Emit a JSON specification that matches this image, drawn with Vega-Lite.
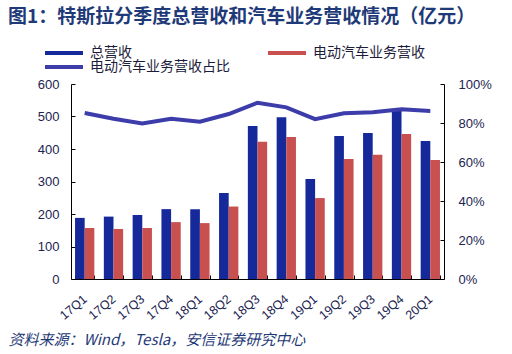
{
  "$schema": "https://vega.github.io/schema/vega-lite/v6.json",
  "autosize": {"type": "none"},
  "width": 373,
  "height": 195,
  "padding": {"left": 71, "top": 84, "right": 68, "bottom": 75},
  "background": "white",
  "config": {
    "view": {"stroke": null},
    "font": "Liberation Sans",
    "axis": {"grid": false, "domainColor": "#000000", "tickColor": "#000000", "labelColor": "#1c2450", "labelFont": "Liberation Sans", "labelFontSize": 13}
  },
  "title": {
    "text": "图1：特斯拉分季度总营收和汽车业务营收情况（亿元）",
    "anchor": "start",
    "frame": "group",
    "orient": "top",
    "dx": -63,
    "offset": 19,
    "font": "Noto Sans CJK SC",
    "fontSize": 19,
    "fontWeight": "bold",
    "color": "#1f3a78"
  },
  "data": {
    "values": [
      {"q": "17Q1", "总营收": 188, "电动汽车业务营收": 157, "ratio": 0.851},
      {"q": "17Q2", "总营收": 192, "电动汽车业务营收": 154, "ratio": 0.822},
      {"q": "17Q3", "总营收": 197, "电动汽车业务营收": 157, "ratio": 0.798},
      {"q": "17Q4", "总营收": 215, "电动汽车业务营收": 175, "ratio": 0.822},
      {"q": "18Q1", "总营收": 215, "电动汽车业务营收": 172, "ratio": 0.807},
      {"q": "18Q2", "总营收": 265, "电动汽车业务营收": 223, "ratio": 0.846},
      {"q": "18Q3", "总营收": 471, "电动汽车业务营收": 422, "ratio": 0.904},
      {"q": "18Q4", "总营收": 498, "电动汽车业务营收": 437, "ratio": 0.88},
      {"q": "19Q1", "总营收": 308, "电动汽车业务营收": 249, "ratio": 0.82},
      {"q": "19Q2", "总营收": 440, "电动汽车业务营收": 369, "ratio": 0.85},
      {"q": "19Q3", "总营收": 449, "电动汽车业务营收": 382, "ratio": 0.855},
      {"q": "19Q4", "总营收": 520, "电动汽车业务营收": 446, "ratio": 0.87},
      {"q": "20Q1", "总营收": 425, "电动汽车业务营收": 366, "ratio": 0.862}
    ]
  },
  "encoding": {
    "x": {
      "field": "q",
      "type": "nominal",
      "sort": null,
      "scale": {"paddingInner": 0.33, "paddingOuter": 0.14},
      "axis": {
        "title": "资料来源：Wind，Tesla，安信证券研究中心",
        "titleFont": "Noto Sans CJK SC",
        "titleFontStyle": "italic",
        "titleFontWeight": "normal",
        "titleFontSize": 15,
        "titleColor": "#1f3a78",
        "titleAlign": "left",
        "titleAnchor": "start",
        "titleBaseline": "alphabetic",
        "titleX": -63,
        "titleY": 65,
        "labelAngle": -40,
        "labelAlign": "right",
        "labelBaseline": "middle",
        "labelFontSize": 12.5,
        "labelPadding": 22,
        "tickSize": -4,
        "tickBand": "extent"
      }
    }
  },
  "layer": [
    {
      "transform": [{"fold": ["总营收", "电动汽车业务营收"], "as": ["series", "val"]}],
      "mark": {"type": "bar"},
      "encoding": {
        "xOffset": {"field": "series", "type": "nominal", "sort": ["总营收", "电动汽车业务营收"]},
        "y": {
          "field": "val",
          "type": "quantitative",
          "scale": {"domain": [0, 600]},
          "axis": {"title": null, "values": [0, 100, 200, 300, 400, 500, 600], "tickSize": -4, "labelPadding": 16}
        },
        "color": {
          "field": "series",
          "type": "nominal",
          "scale": {
            "domain": ["总营收", "电动汽车业务营收", "电动汽车业务营收占比"],
            "range": ["#16299a", "#c8504e", "#3c3caa"]
          },
          "legend": {
            "title": null,
            "orient": "none",
            "direction": "horizontal",
            "legendX": -28,
            "legendY": -38,
            "columns": 2,
            "columnPadding": 36,
            "rowPadding": 0,
            "padding": 0,
            "symbolType": "M-1,-0.4H6.6V0.4H-1Z",
            "symbolSize": 100,
            "symbolStrokeWidth": 0,
            "labelOffset": 33,
            "labelFont": "Noto Sans CJK SC",
            "labelFontSize": 14,
            "labelColor": "#1c1c3c",
            "labelLimit": 300,
            "encode": {"symbols": {"update": {"fill": {"scale": "color", "field": "value"}, "stroke": {"value": "transparent"}, "opacity": {"value": 1}}}}
          }
        }
      }
    },
    {
      "mark": {"type": "line", "strokeWidth": 4},
      "encoding": {
        "y": {
          "field": "ratio",
          "type": "quantitative",
          "scale": {"domain": [0, 1]},
          "axis": {"title": null, "orient": "right", "format": ".0%", "values": [0, 0.2, 0.4, 0.6, 0.8, 1], "tickSize": -4, "labelPadding": 18}
        },
        "color": {"datum": "电动汽车业务营收占比"}
      }
    }
  ],
  "resolve": {"scale": {"y": "independent"}}
}
